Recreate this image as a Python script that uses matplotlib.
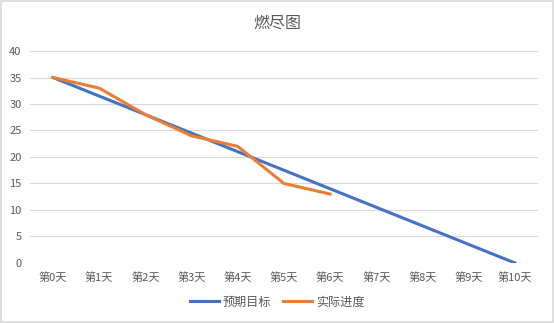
import matplotlib.pyplot as plt
from matplotlib.patches import Rectangle

plt.rcParams['font.family'] = ['Noto Sans CJK SC', 'DejaVu Sans']

# burndown data
days = ['第0天', '第1天', '第2天', '第3天', '第4天', '第5天',
        '第6天', '第7天', '第8天', '第9天', '第10天']
planned = [35, 31.5, 28, 24.5, 21, 17.5, 14, 10.5, 7, 3.5, 0]
actual = [35, 33, 28, 24, 22, 15, 13]
y_ticks = [0, 5, 10, 15, 20, 25, 30, 35, 40]

text_color = '#595959'
grid_color = '#D9D9D9'
blue = '#4472C4'
orange = '#ED7D31'

fig = plt.figure(figsize=(5.54, 3.23), dpi=100, facecolor='white')
ax = fig.add_axes([0.054, 0.186, 0.917, 0.656])

x_plan = list(range(len(planned)))
x_act = list(range(len(actual)))
ax.plot(x_plan, planned, color=blue, linewidth=2.2, label='预期目标',
        solid_joinstyle='round', zorder=3)
ax.plot(x_act, actual, color=orange, linewidth=2.2, label='实际进度',
        solid_joinstyle='round', zorder=4)

ax.set_xlim(-0.5, len(days) - 0.5)
ax.set_ylim(0, 40)
ax.set_xticks(x_plan)
ax.set_xticklabels(days)
ax.set_yticks(y_ticks)
ax.tick_params(length=0, labelsize=8, colors=text_color)
ax.tick_params(axis='x', pad=7)
ax.tick_params(axis='y', pad=6)

ax.grid(axis='y', color=grid_color, linewidth=0.8)
ax.set_axisbelow(True)
for name, sp in ax.spines.items():
    sp.set_visible(False)

fig.text(0.5, 0.928, '燃尽图', ha='center', va='center',
         fontsize=11.5, color=text_color)

fig.legend(loc='center', bbox_to_anchor=(0.5, 0.065), ncol=2, frameon=False,
           fontsize=8.7, labelcolor=text_color, handlelength=2.4,
           handletextpad=0.3, columnspacing=1.0)

# chart area border
fig.patches.append(Rectangle((0.002, 0.003), 0.996, 0.994, transform=fig.transFigure,
                             fill=False, edgecolor=grid_color, linewidth=1.2))

fig.savefig('out.png', dpi=100, facecolor='white')
